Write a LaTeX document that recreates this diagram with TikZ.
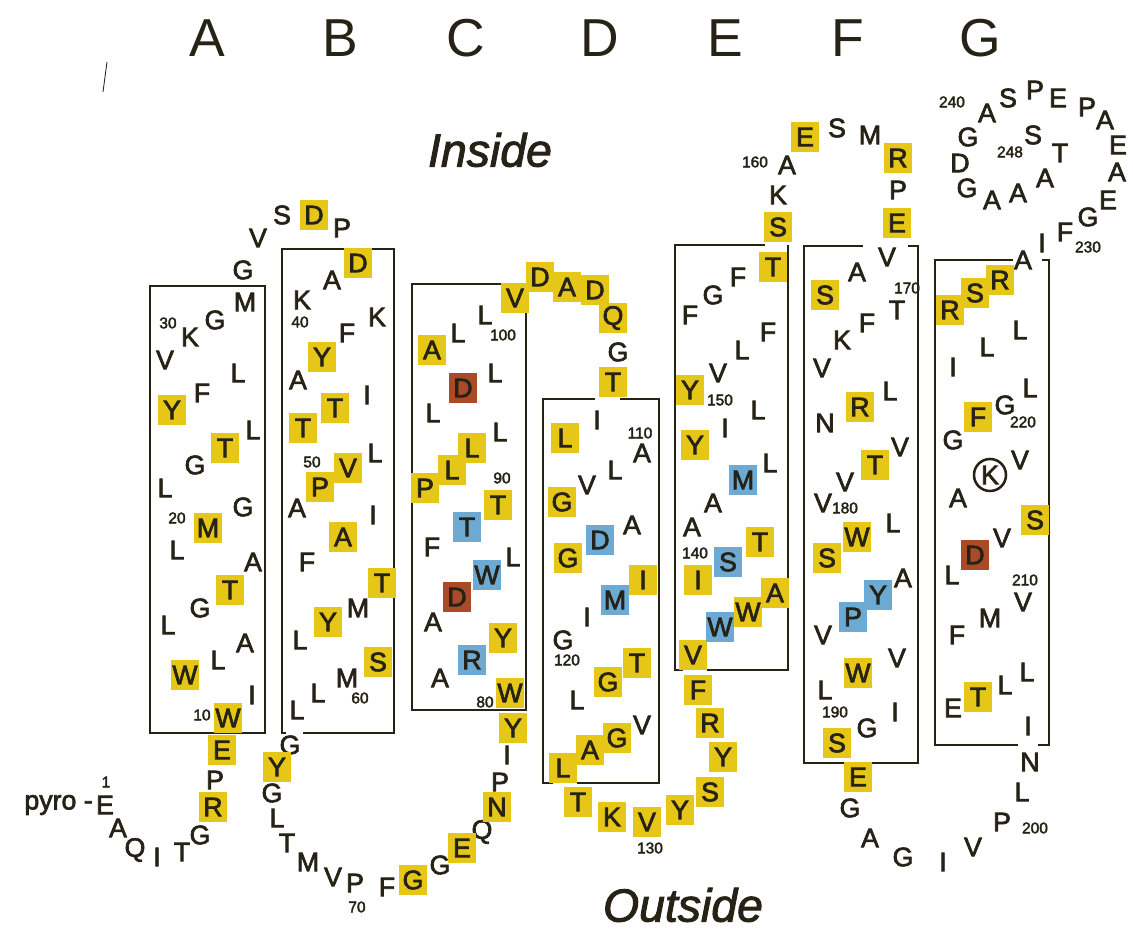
\documentclass[tikz,border=0pt]{standalone}
\usepackage{fontspec}
\setmainfont{Liberation Sans}
\newfontface\thickface{Liberation Sans}[FakeBold=2.5]
\newfontface\thickital{Liberation Sans Italic}[FakeBold=2]
\definecolor{ink}{RGB}{38,34,22}
\definecolor{hiyel}{RGB}{230,198,22}
\definecolor{hiblu}{RGB}{108,170,212}
\definecolor{hibrn}{RGB}{170,74,38}
\newcommand{\helixlines}{
    % helix A and B
    \draw[helix] (150,286) rectangle (265,733);
    \draw[helix] (303,733) -- (394,733) -- (394,249) -- (282,249) -- (282,733) -- (286,733);
    % helix C and D
    \draw[helix] (502,284) -- (412,284) -- (412,710) -- (526,710) -- (526,305);
    \draw[helix] (595,399) -- (543,399) -- (543,783) -- (553,783);
    \draw[helix] (577,783) -- (659,783) -- (659,399) -- (620,399);
    % helix E and F
    \draw[helix] (765,245) -- (675,245) -- (675,670) -- (683,670);
    \draw[helix] (707,670) -- (788,670) -- (788,245);
    \draw[helix] (863,246) -- (804,246) -- (804,763) -- (918,763) -- (918,246) -- (908,246);
    % helix G
    \draw[helix] (1013,260) -- (935,260) -- (935,745) -- (1018,745);
    \draw[helix] (1038,745) -- (1049,745) -- (1049,260) -- (1042,260);
}

\begin{document}
\begin{tikzpicture}[x=0.025cm,y=-0.025cm,
    res/.style={inner sep=0pt,text=ink,font=\thickface\fontsize{19}{20}\selectfont},
    yel/.style={res,fill=hiyel,minimum width=0.72cm,minimum height=0.75cm},
    blu/.style={yel,fill=hiblu},
    brn/.style={yel,fill=hibrn},
    num/.style={inner sep=0pt,text=ink,font=\thickface\fontsize{11}{12}\selectfont},
    head/.style={inner sep=0pt,text=ink,font=\fontsize{38}{40}\selectfont},
    side/.style={inner sep=0pt,text=ink,font=\thickital\fontsize{33}{36}\selectfont},
    helix/.style={draw=ink,line width=1pt}]
    \useasboundingbox (0,0) rectangle (1133,931);
    \fill[white] (0,0) rectangle (1133,931);

    \foreach \x/\t in {207/A,340/B,466/C,600/D,725/E,848/F,980/G}
    \node[head] (h\t) at (\x,38) {\t};
    \node[side] (inside) at (490,150) {Inside};
    \node[side] (outside) at (683,905) {Outside};
    \draw[ink,line width=0.6pt] (103,92) -- (107,62);

    \helixlines

    \node[res,anchor=east] (pyro) at (93,805) {pyro -};
    \foreach \x/\y/\t [count=\i] in {105/805/E,118/828/A,135/850/Q,157/857/I,182/852/T,200/835/G,
        215/780/P,252/695/I,218/660/L,245/643/A,168/625/L,200/608/G,253/562/A,177/550/L,
        243/507/G,165/488/L,195/465/G,253/430/L,202/393/F,238/373/L,165/360/V,190/337/K,
        215/320/G,245/302/M,243/270/G,258/238/V,282/215/S,342/228/P,332/280/A,302/300/K,
        377/317/K,347/333/F,298/380/A,367/395/I,375/453/L,297/508/A,373/515/I,307/562/F,
        358/608/M,300/640/L,347/678/M,318/693/L,297/710/L,290/745/G,272/793/G,277/818/L,
        287/843/T,308/862/M,333/877/V,355/883/P,387/887/F,440/865/G,482/832/Q,500/782/P,
        507/755/I,440/678/A,433/622/A,513/557/L,432/547/F,500/432/L,433/413/L,495/373/L,
        458/333/L,485/315/L,618/352/G,597/420/I,642/453/A,615/470/L,587/485/V,632/525/A,
        587/617/I,563/640/G,577/700/L,642/725/V,692/527/A,713/503/A,770/463/L,725/428/I,
        758/410/L,718/373/V,742/350/L,768/332/F,690/315/F,713/295/G,738/277/F,778/195/K,
        787/165/A,837/128/S,870/135/M,898/190/P,887/257/V,857/272/A,897/310/T,867/323/F,
        842/340/K,822/368/V,890/391/L,825/423/N,900/447/V,845/482/V,823/503/V,893/523/L,
        903/578/A,823/635/V,897/658/V,825/690/L,895/712/I,867/728/G,850/808/G,870/838/A,
        903/857/G,943/862/I,973/847/V,1002/822/P,1022/792/L,1030/762/N,1028/726/I,
        1005/685/L,1027/672/L,953/708/E,957/635/F,990/618/M,1023/602/V,952/575/L,
        1002/538/V,958/498/A,1020/460/V,953/440/G,1005/405/G,1030/388/L,953/367/I,
        987/347/L,1020/330/L,1023/260/A,1042/243/I,1065/232/F,1088/217/G,1108/200/E,
        1117/172/A,1118/145/E,1105/120/A,1087/107/P,1058/98/E,1035/90/P,1008/98/S,
        987/113/A,968/137/G,960/163/D,967/188/G,992/200/A,1018/193/A,1045/178/A,
        1060/153/T,1033/135/S}
    \node[res] (p\i) at (\x,\y) {\t};

    \foreach \x/\y/\t [count=\i] in {213/807/R,222/750/E,228/718/W,185/675/W,230/590/T,
        208/528/M,225/448/T,172/410/Y,314/215/D,358/263/D,322/357/Y,335/408/T,303/428/T,
        348/468/V,320/487/P,343/537/A,382/583/T,328/622/Y,378/662/S,277/767/Y,413/880/G,
        462/848/E,497/807/N,513/728/Y,510/693/W,503/638/Y,498/505/T,425/488/P,452/470/L,
        472/448/L,432/350/A,515/298/V,540/277/D,567/287/A,595/290/D,613/318/Q,613/382/T,
        565/438/L,562/502/G,568/558/G,643/580/I,637/663/T,608/682/G,617/738/G,590/750/A,
        563/768/L,578/802/T,612/817/K,647/822/V,680/810/Y,710/792/S,723/757/Y,710/723/R,
        698/690/F,693/655/V,748/612/W,775/593/A,698/580/I,760/542/T,695/445/Y,690/390/Y,
        773/267/T,778/227/S,805/137/E,898/158/R,897/223/E,825/295/S,860/407/R,875/465/T,
        857/537/W,827/558/S,858/673/W,837/743/S,858/777/E,978/697/T,1035/520/S,978/417/F,
        950/310/R,975/293/S,1000/280/R}
    \node[yel] (y\i) at (\x,\y) {\t};

    \foreach \x/\y/\t [count=\i] in {472/660/R,487/575/W,467/527/T,600/540/D,615/600/M,
        720/627/W,728/562/S,743/480/M,878/595/Y,853/617/P}
    \node[blu] (b\i) at (\x,\y) {\t};

    \foreach \x/\y/\t [count=\i] in {457/597/D,463/388/D,975/555/D}
    \node[brn] (d\i) at (\x,\y) {\t};

    \node[res,draw=ink,circle,line width=1.8pt,minimum size=0.8cm] (lys) at (990,475) {K};

    \foreach \x/\y/\t [count=\i] in {106/782/1,202/715/10,177/518/20,168/323/30,300/322/40,
        312/462/50,360/698/60,357/907/70,485/702/80,502/478/90,503/335/100,640/433/110,
        567/660/120,650/848/130,695/553/140,720/400/150,755/162/160,907/288/170,
        845/508/180,835/712/190,1035/828/200,1025/580/210,1023/422/220,1088/247/230,
        952/102/240,1010/152/248}
    \node[num] (n\i) at (\x,\y) {\t};
\end{tikzpicture}
\end{document}
